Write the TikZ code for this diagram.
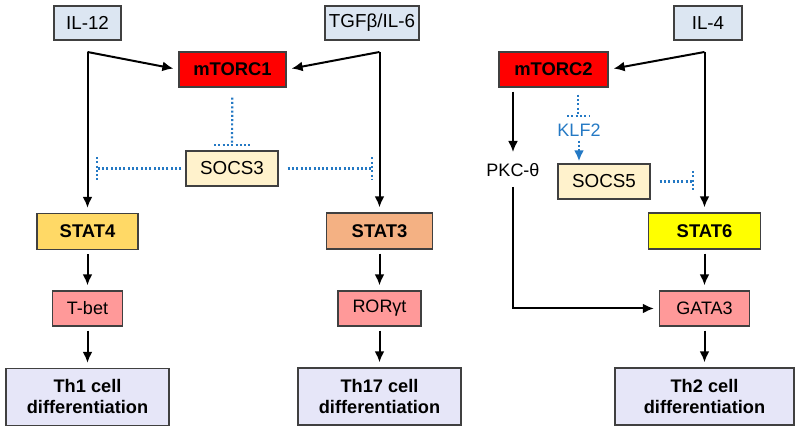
\documentclass[tikz,border=0pt]{standalone}
\usepackage{fontspec}
\setmainfont{Liberation Sans}
\usetikzlibrary{arrows.meta}
\usetikzlibrary{positioning}
\definecolor{ilblue}{HTML}{DCE6F2}
\definecolor{mtorred}{HTML}{FF0000}
\definecolor{socscream}{HTML}{FFF2CC}
\definecolor{stat4col}{HTML}{FFD966}
\definecolor{stat3col}{HTML}{F4B183}
\definecolor{stat6col}{HTML}{FFFF00}
\definecolor{tfpink}{HTML}{FF9999}
\definecolor{thlav}{HTML}{E6E6F8}
\definecolor{inhblue}{HTML}{2479C4}
\definecolor{boxline}{HTML}{404040}

\begin{document}
\begin{tikzpicture}[x=0.5pt,y=-0.5pt,>={Latex[length=5.5pt,width=5pt]},
	signal/.style={->,line width=1pt,shorten >=2.5pt},
	inhib/.style={draw=inhblue,line width=1.1pt,dash pattern=on 1pt off 1.15pt},
	box/.style={draw=boxline,line width=0.7pt,inner sep=0pt,minimum height=17.5pt,font=\fontsize{9}{11}\selectfont},
	cytokine/.style={box,fill=ilblue,minimum height=17pt,font=\fontsize{9.4}{11}\selectfont},
	kinase/.style={box,fill=mtorred,font=\fontsize{9.2}{11}\selectfont\bfseries},
	stat/.style={box,minimum height=18pt,font=\fontsize{9.2}{11}\selectfont\bfseries},
	tf/.style={box,fill=tfpink},
	socs/.style={box,fill=socscream,minimum width=46pt,font=\fontsize{9.4}{12}\selectfont},
	fate/.style={box,fill=thlav,minimum height=28.5pt,align=center,font=\fontsize{9.1}{10.5}\selectfont\bfseries}]
	\useasboundingbox (0,0) rectangle (800,431);
	% Th1 / Th17 side
	\node[cytokine,minimum width=33.5pt] (il12) at (87.5,23) {IL-12};
	\node[cytokine,minimum width=47pt] (tgfb) at (372,23) {TGFβ/IL-6};
	\node[kinase,minimum width=53.5pt] (mtorc1) at (232.5,69.5) {mTORC1};
	\node[socs] (socs3) at (232,168.5) {SOCS3};
	\node[stat,fill=stat4col,minimum width=50.5pt] (stat4) at (87.5,231.5) {STAT4};
	\node[stat,fill=stat3col,minimum width=53pt] (stat3) at (379.5,231) {STAT3};
	\node[tf,minimum width=35pt] (tbet) at (87.5,308.5) {T-bet};
	\node[tf,minimum width=41.5pt] (rorgt) at (379.5,308.5) {RORγt};
	\node[fate,minimum width=81.5pt] (th1) at (87.5,397) {Th1 cell\\differentiation};
	\node[fate,minimum width=81.5pt] (th17) at (379.5,396.5) {Th17 cell\\differentiation};
	% Th2 side
	\node[cytokine,minimum width=34pt] (il4) at (708,23) {IL-4};
	\node[kinase,minimum width=54.5pt] (mtorc2) at (553.5,69.5) {mTORC2};
	\node[inner sep=3pt,font=\fontsize{9}{11}\selectfont] (pkc) at (513,170) {PKC-θ};
	\node[inner sep=2pt,text=inhblue,font=\fontsize{9}{11}\selectfont] (klf2) at (579,130) {KLF2};
	\node[socs] (socs5) at (604,181.5) {SOCS5};
	\node[stat,fill=stat6col,minimum width=56pt] (stat6) at (704.5,231) {STAT6};
	\node[tf,minimum width=45pt] (gata3) at (704.5,308.5) {GATA3};
	\node[fate,minimum width=89.5pt] (th2) at (704.5,396.5) {Th2 cell\\differentiation};

	\coordinate (c1) at (87.5,52);
	\coordinate (c2) at (379.5,52);
	\coordinate (c3) at (704.5,52);
	\path[signal]	(c1) edge (mtorc1.west)
			(c1) edge (stat4)
			(c2) edge (mtorc1.east)
			(c2) edge (stat3)
			(c3) edge (mtorc2.east)
			(c3) edge (stat6);
	\path[signal,shorten <=2pt]	(stat4) edge (tbet)
			(tbet) edge (th1)
			(stat3) edge (rorgt)
			(rorgt) edge (th17)
			(stat6) edge (gata3)
			(gata3) edge (th2)
			(pkc.north |- mtorc2.south) edge (pkc);
	\draw[signal,shorten <=2pt] (pkc) |- (gata3);

	% inhibition by SOCS3 / SOCS5
	\coordinate (b1) at (232,145);
	\coordinate (b2) at (97,168.5);
	\coordinate (b3) at (372,168.5);
	\coordinate (b4) at (578,116);
	\coordinate (b5) at (693,181.5);
	\draw[inhib,shorten <=5pt] (mtorc1) -- (b1);
	\draw[inhib] (b1) ++(-18,0) -- ++(36,0);
	\draw[inhib,shorten <=2pt] (socs3) -- (b2);
	\draw[inhib] (b2) ++(0,-11.5) -- ++(0,23);
	\draw[inhib,shorten <=4.5pt] (socs3) -- (b3);
	\draw[inhib] (b3) ++(0,-11) -- ++(0,22);
	\draw[inhib,shorten <=3.5pt] (mtorc2.south -| b4) -- (b4);
	\draw[inhib] (b4) ++(-11,0) -- ++(22,0);
	\draw[inhib,->,shorten >=1pt] (klf2) -- (klf2 |- socs5.north);
	\draw[inhib,shorten <=4.5pt] (socs5) -- (b5);
	\draw[inhib] (b5) ++(0,-10.5) -- ++(0,21);
\end{tikzpicture}
\end{document}
